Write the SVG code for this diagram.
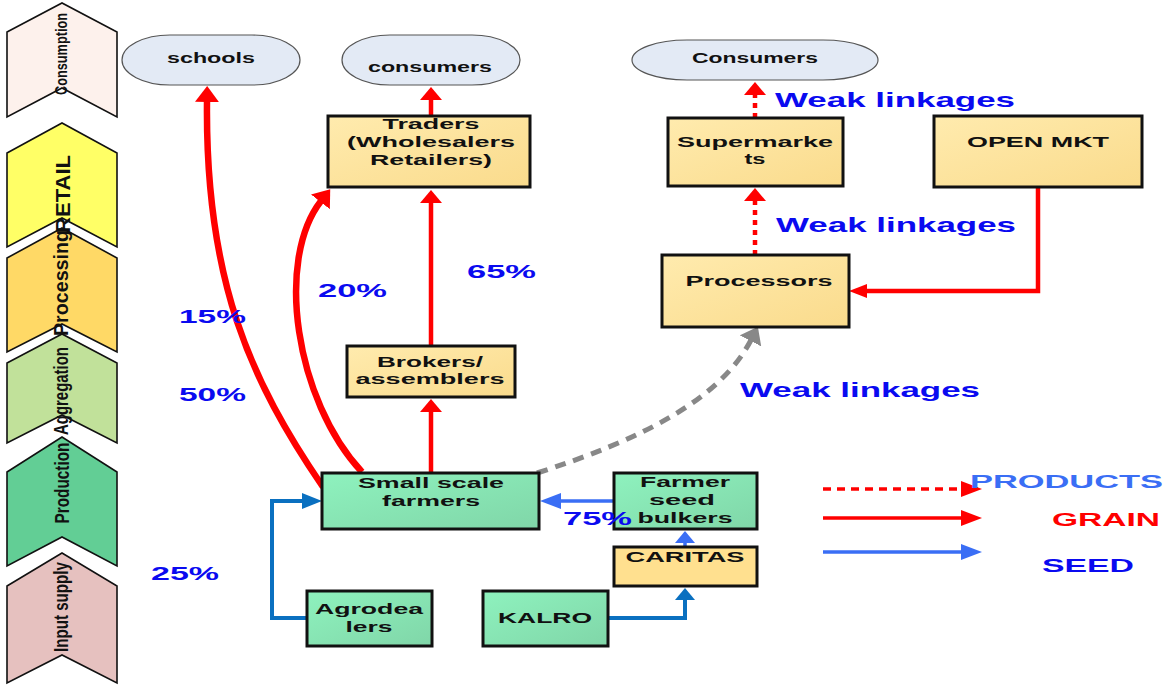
<svg xmlns="http://www.w3.org/2000/svg" width="1167" height="688" viewBox="0 0 1167 688">
<style>
.chev{stroke:#111;stroke-width:1.6}
.ct{font-family:"Liberation Sans",Arial,sans-serif;font-weight:bold;fill:#111;text-anchor:middle}
.pill{fill:#E3EAF5;stroke:#555;stroke-width:1.2}
.box{stroke:#111;stroke-width:3}
.yb{fill:url(#gy)}
.gb{fill:url(#gg)}
.t{font-family:"Liberation Sans",Arial,sans-serif;font-weight:bold;fill:#111;text-anchor:middle;font-size:15.5px}
.wl{font-family:"Liberation Sans",Arial,sans-serif;font-weight:bold;fill:#0A0AF0;font-size:21px}
.pc{font-family:"Liberation Sans",Arial,sans-serif;font-weight:bold;fill:#0A0AF0;font-size:19px}
.red{fill:none;stroke:#FF0000;stroke-width:4.5}
.redc{fill:none;stroke:#FF0000;stroke-width:6.5}
.dot{fill:none;stroke:#FF0000;stroke-width:4.5;stroke-dasharray:5 5}
.gray{fill:none;stroke:#888;stroke-width:5;stroke-dasharray:11 8}
.bl{fill:none;stroke:#3A6EF5;stroke-width:3.5}
.bd{fill:none;stroke:#0A70C0;stroke-width:4}
</style>
<defs>
<linearGradient id="gy" x1="0" y1="0" x2="1" y2="1"><stop offset="0" stop-color="#FFEBAE"/><stop offset="1" stop-color="#FADB8C"/></linearGradient>
<linearGradient id="gg" x1="0" y1="0" x2="1" y2="1"><stop offset="0" stop-color="#8EF2BE"/><stop offset="1" stop-color="#80D6A8"/></linearGradient>
<marker id="ar" markerUnits="userSpaceOnUse" markerWidth="16" markerHeight="24" refX="1" refY="12" orient="auto"><path d="M0,0 L16,12 L0,24 z" fill="#FF0000"/></marker>
<marker id="ars" markerUnits="userSpaceOnUse" markerWidth="13" markerHeight="22" refX="1" refY="11" orient="auto"><path d="M0,0 L13,11 L0,22 z" fill="#FF0000"/></marker>
<marker id="arh" markerUnits="userSpaceOnUse" markerWidth="18" markerHeight="14" refX="1" refY="7" orient="auto"><path d="M0,0 L18,7 L0,14 z" fill="#FF0000"/></marker>
<marker id="arl" markerUnits="userSpaceOnUse" markerWidth="21" markerHeight="16" refX="1" refY="8" orient="auto"><path d="M0,0 L21,8 L0,16 z" fill="#FF0000"/></marker>
<marker id="ag" markerUnits="userSpaceOnUse" markerWidth="16" markerHeight="24" refX="1" refY="12" orient="auto"><path d="M0,0 L16,12 L0,24 z" fill="#888"/></marker>
<marker id="abl" markerUnits="userSpaceOnUse" markerWidth="21" markerHeight="16" refX="1" refY="8" orient="auto"><path d="M0,0 L21,8 L0,16 z" fill="#3A6EF5"/></marker>
<marker id="abls" markerUnits="userSpaceOnUse" markerWidth="12" markerHeight="20" refX="1" refY="10" orient="auto"><path d="M0,0 L12,10 L0,20 z" fill="#3A6EF5"/></marker>
<marker id="abd" markerUnits="userSpaceOnUse" markerWidth="20" markerHeight="16" refX="1" refY="8" orient="auto"><path d="M0,0 L20,8 L0,16 z" fill="#0A70C0"/></marker>
<marker id="abds" markerUnits="userSpaceOnUse" markerWidth="12" markerHeight="20" refX="1" refY="10" orient="auto"><path d="M0,0 L12,10 L0,20 z" fill="#0A70C0"/></marker>
</defs>
<rect width="1167" height="688" fill="#fff"/>

<g id="stages">
<polygon class="chev" fill="#FDF1EC" points="7,32 62,3 117,32 117,117 62,88 7,117"/>
<polygon class="chev" fill="#FFFF66" points="7,153 62,123 117,153 117,247 62,218 7,247"/>
<polygon class="chev" fill="#FFD966" points="7,258 62,228 117,258 117,352 62,324 7,352"/>
<polygon class="chev" fill="#C1E19A" points="7,363 62,334 117,363 117,443 62,415 7,443"/>
<polygon class="chev" fill="#62CE95" points="7,472 62,437 117,472 117,566 62,537 7,566"/>
<polygon class="chev" fill="#E6C1BF" points="7,586 62,553 117,586 117,683 62,655 7,683"/>
<text class="ct" font-size="16" transform="translate(67,54) rotate(-90)" textLength="82" lengthAdjust="spacingAndGlyphs">Consumption</text>
<text class="ct" font-size="21" transform="translate(70,194) rotate(-90)" textLength="78" lengthAdjust="spacingAndGlyphs">RETAIL</text>
<text class="ct" font-size="21" transform="translate(68,283) rotate(-90)" textLength="106" lengthAdjust="spacingAndGlyphs">Processing</text>
<text class="ct" font-size="21" transform="translate(68,391) rotate(-90)" textLength="88" lengthAdjust="spacingAndGlyphs">Aggregation</text>
<text class="ct" font-size="21" transform="translate(69,483) rotate(-90)" textLength="81" lengthAdjust="spacingAndGlyphs">Production</text>
<text class="ct" font-size="21" transform="translate(68,607) rotate(-90)" textLength="90" lengthAdjust="spacingAndGlyphs">Input supply</text>
</g>

<g id="connectors">
<path class="redc" d="M323,487 C250,380 205,280 207,101" marker-end="url(#ar)"/>
<path class="redc" d="M362,472 C295,400 275,260 321,201" marker-end="url(#ar)"/>
<path class="red" d="M431,473 V411" marker-end="url(#ars)"/>
<path class="red" d="M431,346 V202" marker-end="url(#ars)"/>
<path class="red" d="M431,116 V99" marker-end="url(#ars)"/>
<path class="red" d="M1038,187 V291 H866" marker-end="url(#arh)"/>
<path class="dot" d="M755,255 V200" marker-end="url(#ars)"/>
<path class="dot" d="M755,118 V94" marker-end="url(#ars)"/>
<path class="gray" d="M537,473 C640,440 720,400 751,340" marker-end="url(#ag)"/>
<path class="bl" d="M614,501 H560" marker-end="url(#abl)"/>
<path class="bl" d="M685,547 V542" marker-end="url(#abls)"/>
<path class="bd" d="M608,618 H685 V599" marker-end="url(#abds)"/>
<path class="bd" d="M307,618 H272 V501 H303" marker-end="url(#abd)"/>
</g>

<g id="schools">
<rect class="pill" x="122" y="35" width="178" height="50" rx="48" ry="25"/>
<text class="t" x="211" y="63" font-size="14" textLength="88" lengthAdjust="spacingAndGlyphs">schools</text>
</g>
<g id="consumers">
<rect class="pill" x="342" y="35" width="178" height="50" rx="48" ry="25"/>
<text class="t" x="430" y="72" font-size="16" textLength="124" lengthAdjust="spacingAndGlyphs">consumers</text>
</g>
<g id="consumers2">
<rect class="pill" x="632" y="40" width="246" height="40" rx="55" ry="20"/>
<text class="t" x="755" y="63" font-size="14" textLength="126" lengthAdjust="spacingAndGlyphs">Consumers</text>
</g>
<g id="traders">
<rect class="box yb" x="328" y="116" width="202" height="71"/>
<text class="t" x="431" y="129" textLength="97" lengthAdjust="spacingAndGlyphs">Traders</text>
<text class="t" x="431" y="147" textLength="168" lengthAdjust="spacingAndGlyphs">(Wholesalers</text>
<text class="t" x="431" y="165" textLength="122" lengthAdjust="spacingAndGlyphs">Retailers)</text>
</g>
<g id="supermarkets">
<rect class="box yb" x="668" y="118" width="175" height="68"/>
<text class="t" x="755" y="147" textLength="156" lengthAdjust="spacingAndGlyphs">Supermarke</text>
<text class="t" x="755" y="164" textLength="21" lengthAdjust="spacingAndGlyphs">ts</text>
</g>
<g id="openmkt">
<rect class="box yb" x="934" y="116" width="208" height="71"/>
<text class="t" x="1038" y="147" textLength="142" lengthAdjust="spacingAndGlyphs">OPEN MKT</text>
</g>
<g id="processors">
<rect class="box yb" x="662" y="255" width="187" height="72"/>
<text class="t" x="759" y="286" textLength="147" lengthAdjust="spacingAndGlyphs">Processors</text>
</g>
<g id="brokers">
<rect class="box yb" x="347" y="346" width="168" height="51"/>
<text class="t" x="430" y="367" textLength="106" lengthAdjust="spacingAndGlyphs">Brokers/</text>
<text class="t" x="430" y="384" textLength="149" lengthAdjust="spacingAndGlyphs">assemblers</text>
</g>
<g id="farmers">
<rect class="box gb" x="322" y="473" width="217" height="56"/>
<text class="t" x="431" y="488" textLength="146" lengthAdjust="spacingAndGlyphs">Small scale</text>
<text class="t" x="431" y="506" textLength="98" lengthAdjust="spacingAndGlyphs">farmers</text>
</g>
<g id="bulkers">
<rect class="box gb" x="614" y="473" width="143" height="56"/>
<text class="t" x="685" y="487" textLength="90" lengthAdjust="spacingAndGlyphs">Farmer</text>
<text class="t" x="682" y="505" textLength="66" lengthAdjust="spacingAndGlyphs">seed</text>
<text class="t" x="685" y="523" textLength="95" lengthAdjust="spacingAndGlyphs">bulkers</text>
</g>
<g id="caritas">
<rect class="box" fill="#FFE08F" x="614" y="547" width="143" height="39"/>
<text class="t" x="685" y="562" textLength="119" lengthAdjust="spacingAndGlyphs">CARITAS</text>
</g>
<g id="agrodealers">
<rect class="box gb" x="307" y="591" width="125" height="55"/>
<text class="t" x="369" y="614" textLength="108" lengthAdjust="spacingAndGlyphs">Agrodea</text>
<text class="t" x="369" y="632" textLength="47" lengthAdjust="spacingAndGlyphs">lers</text>
</g>
<g id="kalro">
<rect class="box gb" x="483" y="591" width="125" height="55"/>
<text class="t" x="545" y="623" textLength="94" lengthAdjust="spacingAndGlyphs">KALRO</text>
</g>

<g id="labels">
<text class="wl" x="775" y="107" textLength="240" lengthAdjust="spacingAndGlyphs">Weak linkages</text>
<text class="wl" x="776" y="232" textLength="240" lengthAdjust="spacingAndGlyphs">Weak linkages</text>
<text class="wl" x="740" y="397" textLength="240" lengthAdjust="spacingAndGlyphs">Weak linkages</text>
<text class="pc" x="179" y="323" textLength="67" lengthAdjust="spacingAndGlyphs">15%</text>
<text class="pc" x="179" y="401" textLength="67" lengthAdjust="spacingAndGlyphs">50%</text>
<text class="pc" x="318" y="297" textLength="69" lengthAdjust="spacingAndGlyphs">20%</text>
<text class="pc" x="467" y="278" textLength="69" lengthAdjust="spacingAndGlyphs">65%</text>
<text class="pc" x="151" y="580" textLength="68" lengthAdjust="spacingAndGlyphs">25%</text>
<text class="pc" x="563" y="525" textLength="69" lengthAdjust="spacingAndGlyphs">75%</text>
</g>

<g id="legend">
<path fill="none" stroke="#FF0000" stroke-width="3.5" stroke-dasharray="8 6" d="M823,489 H962" marker-end="url(#arl)"/>
<path fill="none" stroke="#FF0000" stroke-width="3.5" d="M823,518 H962" marker-end="url(#arl)"/>
<path class="bl" d="M823,552 H962" marker-end="url(#abl)"/>
<text x="970" y="488" font-family="Liberation Sans, Arial, sans-serif" font-weight="bold" font-size="19" fill="#3A6EF5" textLength="193" lengthAdjust="spacingAndGlyphs">PRODUCTS</text>
<text x="1052" y="526" font-family="Liberation Sans, Arial, sans-serif" font-weight="bold" font-size="19" fill="#FF0000" textLength="108" lengthAdjust="spacingAndGlyphs">GRAIN</text>
<text x="1042" y="572" font-family="Liberation Sans, Arial, sans-serif" font-weight="bold" font-size="19" fill="#0A0AF0" textLength="92" lengthAdjust="spacingAndGlyphs">SEED</text>
</g>
</svg>
